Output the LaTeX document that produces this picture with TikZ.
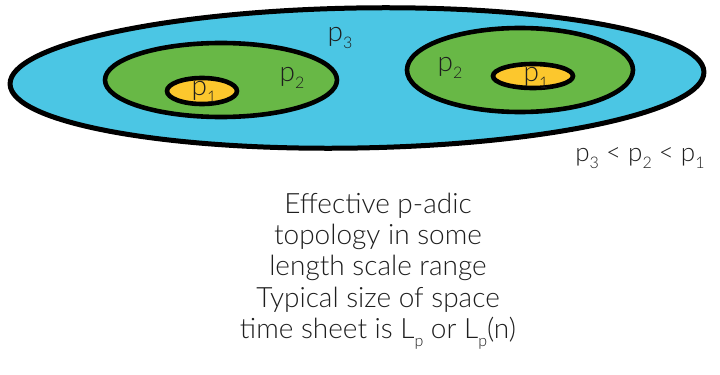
\documentclass[tikz,border=0pt]{standalone}
\usepackage{fontspec}
\setmainfont{Lato Light}
\usepackage{tikz}

\definecolor{seablue}{RGB}{75,198,228}
\definecolor{leafgreen}{RGB}{104,184,70}
\definecolor{sunyellow}{RGB}{252,199,45}
\definecolor{inktext}{RGB}{30,30,30}

\newcommand{\lowsub}[1]{\raisebox{-0.55ex}{\fontsize{8}{8}\selectfont #1}}

\tikzset{
  blob/.style={draw=black,line width=2.3pt},
  plabel/.style={text=inktext,font=\fontsize{14}{16}\selectfont,inner sep=0pt}
}

\begin{document}
\begin{tikzpicture}[x=0.5pt,y=-0.5pt]
\useasboundingbox (0,0) rectangle (720,375);
% outer p3 region
\draw[blob,line width=2.5pt,fill=seablue,rotate around={1:(357,78)}] (357,78) ellipse [x radius=347,y radius=70];
% left p2 region with its p1 core
\draw[blob,fill=leafgreen] (221,80) ellipse [x radius=116,y radius=37];
\draw[blob,fill=sunyellow] (202,91) ellipse [x radius=35,y radius=13];
% right p2 region with its p1 core
\draw[blob,fill=leafgreen] (520,70) ellipse [x radius=113,y radius=42];
\draw[blob,fill=sunyellow] (533,76) ellipse [x radius=40,y radius=12];
% labels
\node[plabel] (pthree) at (340,38) {p\lowsub{3}};
\node[plabel] (ptwoL) at (292,78) {p\lowsub{2}};
\node[plabel] (ptwoR) at (450,68) {p\lowsub{2}};
\node[plabel] (poneL) at (204,92) {p\lowsub{1}};
\node[plabel] (poneR) at (536,78) {p\lowsub{1}};
\node[plabel,font=\fontsize{13}{15}\selectfont] (order) at (640,158) {p\lowsub{3} < p\lowsub{2} < p\lowsub{1}};
% caption
\node[align=center,text=inktext,font=\fontsize{14}{15.7}\selectfont] (caption) at (378,271)
  {Effective p-adic\\ topology in some\\ length scale range\\ Typical size of space\\ time sheet is L\lowsub{p} or L\lowsub{p}(n)};
\end{tikzpicture}
\end{document}
